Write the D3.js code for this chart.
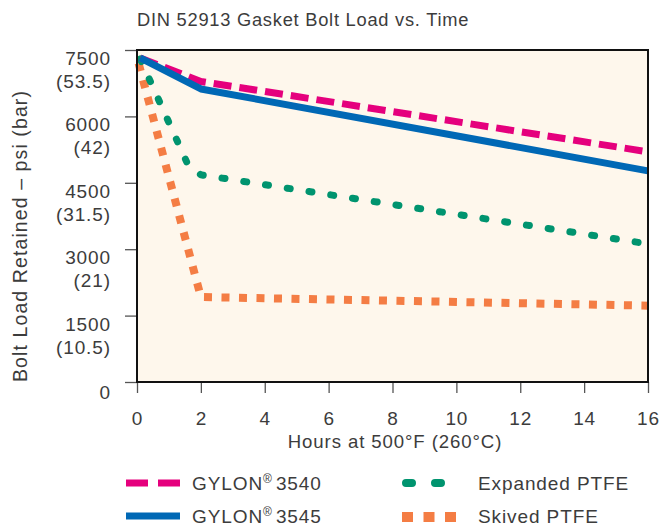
<!DOCTYPE html>
<html><head><meta charset="utf-8">
<script src="https://cdn.jsdelivr.net/npm/d3@7"></script>
<style>body{margin:0;background:#fff;} text{font-family:"Liberation Sans",Arial,sans-serif;fill:#3c3c3c;}</style>
</head><body>
<svg id="chart" width="672" height="527"></svg>
<script>
const title = "DIN 52913 Gasket Bolt Load vs. Time";
const xTicks = [0,2,4,6,8,10,12,14,16];
const yTicks = [0,1500,3000,4500,6000,7500];
const yTicksBar = ["","(10.5)","(21)","(31.5)","(42)","(53.5)"];
const xTitle = "Hours at 500°F (260°C)";
const yTitle = "Bolt Load Retained – psi (bar)";

const gylon3540Hours = [0.1, 2, 16];
const gylon3540Load  = [7320, 6790, 5200];
const gylon3545Hours = [0.1, 2, 16];
const gylon3545Load  = [7320, 6620, 4770];
const expandedHours  = [0.1, 1.6, 2, 16];
const expandedLoad   = [7300, 4900, 4680, 3120];
const skivedHours    = [0.05, 2, 16];
const skivedLoad     = [7200, 1920, 1725];

const svg = d3.select("#chart");
const x = d3.scaleLinear().domain([0,16]).range([137,648]);
const y = d3.scaleLinear().domain([0,7500]).range([382,50]);

// background
svg.append("rect").attr("x",x(0)).attr("y",y(7500)).attr("width",x(16)-x(0)).attr("height",y(0)-y(7500))
  .attr("fill","#fef7ec");

// title
svg.append("text").attr("x",137).attr("y",26).attr("font-size",18.3).attr("letter-spacing",0.75).text(title);

// y axis ticks
const yAxis = d3.axisLeft(y).tickValues(yTicks).tickSize(12).tickFormat("");
svg.append("g").attr("transform",`translate(${x(0)},0)`).call(yAxis)
  .call(g=>{g.select(".domain").remove(); g.selectAll("line").attr("stroke","#555").attr("stroke-width",1.3);});
yTicks.forEach((v,i)=>{
  const ty = y(v);
  const t = (yy, s) => svg.append("text").attr("x",111).attr("y",yy).attr("text-anchor","end")
     .attr("font-size",19).attr("letter-spacing",0.9).text(s);
  if(v===0){
    t(ty+17,"0");
  } else {
    t(ty+15, d3.format("d")(v));
    t(ty+38, yTicksBar[i]);
  }
});

// x axis ticks
const xAxis = d3.axisBottom(x).tickValues(xTicks).tickSize(11).tickFormat("");
svg.append("g").attr("transform",`translate(0,${y(0)})`).call(xAxis)
  .call(g=>{g.select(".domain").remove(); g.selectAll("line").attr("stroke","#555").attr("stroke-width",1.3);});
xTicks.forEach(v=>{
  svg.append("text").attr("x",x(v)+0.5).attr("y",425).attr("text-anchor","middle").attr("font-size",19).attr("letter-spacing",0.9).text(v);
});
svg.append("text").attr("x",395).attr("y",448).attr("text-anchor","middle").attr("font-size",18.6).attr("letter-spacing",0.9).text(xTitle);
svg.append("text").attr("transform",`translate(27,236) rotate(-90)`).attr("text-anchor","middle").attr("font-size",19.5).attr("letter-spacing",1.1).text(yTitle);

// series
const line = d3.line().x(d=>x(d[0])).y(d=>y(d[1]));
const series = [
  {h:skivedHours, v:skivedLoad, color:"#f47d44", w:8, dash:"8,9.5", cap:"butt"},
  {h:expandedHours, v:expandedLoad, color:"#00946f", w:7, dash:"3,19", cap:"round"},
  {h:gylon3540Hours, v:gylon3540Load, color:"#e5007d", w:7, dash:"18,8", cap:"butt"},
  {h:gylon3545Hours, v:gylon3545Load, color:"#0068b5", w:7, dash:null, cap:"butt"}
];
const plot = svg.append("g");
series.forEach(s=>{
  const pts = s.h.map((h,i)=>[h,s.v[i]]);
  plot.append("path").attr("d",line(pts)).attr("fill","none").attr("stroke",s.color)
    .attr("stroke-width",s.w).attr("stroke-dasharray",s.dash).attr("stroke-linecap",s.cap)
    .attr("stroke-linejoin","round");
});

// frame
svg.append("rect").attr("x",x(0)).attr("y",y(7500)).attr("width",x(16)-x(0)).attr("height",y(0)-y(7500))
  .attr("fill","none").attr("stroke","#111").attr("stroke-width",2);

// legend
const leg = svg.append("g");
function legText(xp, yp, main, sup, rest){
  const t = leg.append("text").attr("x",xp).attr("y",yp).attr("font-size",19).attr("letter-spacing",0.9);
  t.append("tspan").text(main);
  if(sup){ t.append("tspan").attr("font-size",12).attr("letter-spacing",0).attr("dy",-7).text(sup);
           t.append("tspan").attr("dy",7).attr("dx",4).attr("font-size",19).text(rest); }
}
leg.append("line").attr("x1",126).attr("x2",180).attr("y1",483).attr("y2",483).attr("stroke","#e5007d").attr("stroke-width",7).attr("stroke-dasharray","22,10");
legText(192,490,"GYLON","®","3540");
leg.append("line").attr("x1",126).attr("x2",180).attr("y1",516).attr("y2",516).attr("stroke","#0068b5").attr("stroke-width",7);
legText(192,523,"GYLON","®","3545");
leg.append("line").attr("x1",406).attr("x2",446).attr("y1",483).attr("y2",483).attr("stroke","#00946f").attr("stroke-width",8).attr("stroke-linecap","round").attr("stroke-dasharray","6,23");
legText(478,490,"Expanded PTFE");
leg.append("line").attr("x1",402).attr("x2",457).attr("y1",517).attr("y2",517).attr("stroke","#f47d44").attr("stroke-width",10).attr("stroke-dasharray","11,10.5");
legText(478,523,"Skived PTFE");
</script>
</body></html>
